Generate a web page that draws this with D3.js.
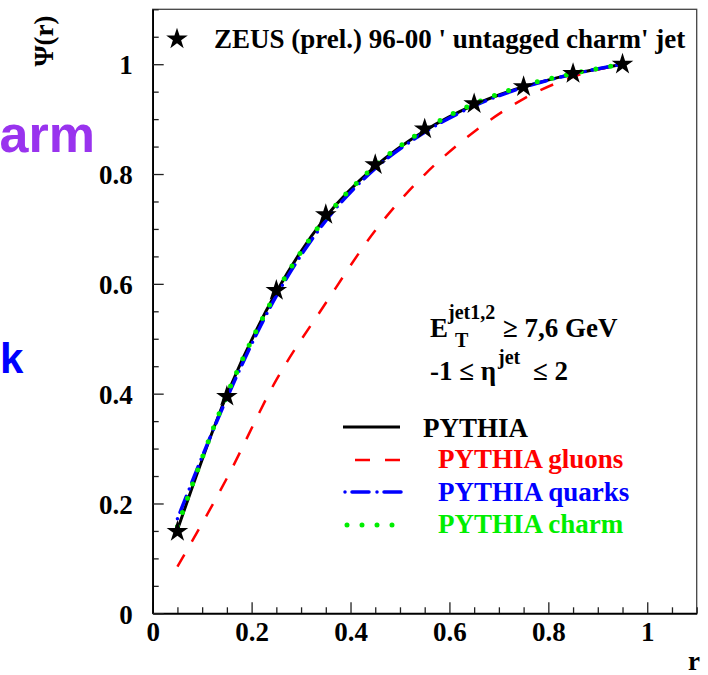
<!DOCTYPE html>
<html>
<head>
<meta charset="utf-8">
<script src="https://cdn.jsdelivr.net/npm/d3@7"></script>
<style>
  html, body { margin: 0; padding: 0; background: #fff; }
  svg { display: block; }
  .serif { font-family: "Liberation Serif", "Times New Roman", serif; font-weight: bold; }
  .sans { font-family: "Liberation Sans", Arial, sans-serif; font-weight: bold; }
</style>
</head>
<body>
<svg id="chart" width="708" height="675"></svg>
<script>
// Jet shape Psi(r): ZEUS untagged charm jets vs PYTHIA predictions
const rBins = [0.05, 0.15, 0.25, 0.35, 0.45, 0.55, 0.65, 0.75, 0.85, 0.95];
const zeusData = [0.149, 0.395, 0.588, 0.726, 0.817, 0.882, 0.928, 0.959, 0.983, 1.000];
const pythiaAll = [0.152, 0.398, 0.585, 0.722, 0.814, 0.879, 0.926, 0.959, 0.982, 1.000];
const pythiaGluons = [0.085, 0.246, 0.425, 0.565, 0.697, 0.799, 0.877, 0.937, 0.977, 1.000];
const pythiaQuarks = [0.172, 0.392, 0.578, 0.715, 0.810, 0.876, 0.924, 0.958, 0.982, 1.000];
const pythiaCharm = [0.158, 0.398, 0.584, 0.721, 0.815, 0.881, 0.928, 0.961, 0.983, 1.000];

const xMajorTicks = [0, 0.2, 0.4, 0.6, 0.8, 1];
const yMajorTicks = [0, 0.2, 0.4, 0.6, 0.8, 1];
const minorStep = 0.05;

const legendEntries = [
  { label: "PYTHIA", color: "#000000", style: "solid" },
  { label: "PYTHIA gluons", color: "#ff0000", style: "dashed" },
  { label: "PYTHIA quarks", color: "#0000ff", style: "dashdot" },
  { label: "PYTHIA charm", color: "#00ee00", style: "dotted" }
];

const svg = d3.select("#chart");

const frame = { left: 152.7, right: 696.7, top: 9.3, bottom: 613.3 };
const x = d3.scaleLinear().domain([0, 1.1]).range([frame.left, frame.right]);
const y = d3.scaleLinear().domain([0, 1.1]).range([frame.bottom, frame.top]);

const styles = {
  solid:   { width: 3,   dash: null,        cap: "butt" },
  dashed:  { width: 2.5, dash: "14 15",     cap: "butt" },
  dashdot: { width: 3.5, dash: "0 7 17 8",  cap: "round" },
  dotted:  { width: 5,   dash: "0 15",      cap: "round" }
};

// side words at the left edge
svg.append("text").attr("class", "sans")
  .attr("x", 95).attr("y", 152).attr("text-anchor", "end")
  .attr("font-size", 52).attr("fill", "#9933ee").text("arm");
svg.append("text").attr("class", "sans")
  .attr("x", 0).attr("y", 373).attr("text-anchor", "start")
  .attr("font-size", 42).attr("fill", "#0000ff").text("k");

// frame
svg.append("rect")
  .attr("x", frame.left).attr("y", frame.top)
  .attr("width", frame.right - frame.left).attr("height", frame.bottom - frame.top)
  .attr("fill", "none").attr("stroke", "#444").attr("stroke-width", 1.3);

const minorVals = d3.range(0, 1.1 + 1e-9, minorStep)
  .map(v => +v.toFixed(2))
  .filter(v => !xMajorTicks.includes(v));

// x axis
const gx = svg.append("g").attr("transform", `translate(0,${frame.bottom})`);
gx.call(d3.axisBottom(x).tickValues(minorVals).tickSize(-6).tickSizeOuter(0).tickFormat(""));
const gxMaj = svg.append("g").attr("transform", `translate(0,${frame.bottom})`);
gxMaj.call(d3.axisBottom(x).tickValues(xMajorTicks).tickSize(-11).tickSizeOuter(0)
  .tickPadding(10).tickFormat(d3.format("~g")));

// y axis
const gy = svg.append("g").attr("transform", `translate(${frame.left},0)`);
gy.call(d3.axisLeft(y).tickValues(minorVals).tickSize(-6).tickSizeOuter(0).tickFormat(""));
const gyMaj = svg.append("g").attr("transform", `translate(${frame.left},0)`);
gyMaj.call(d3.axisLeft(y).tickValues(yMajorTicks).tickSize(-11).tickSizeOuter(0)
  .tickPadding(20).tickFormat(d3.format("~g")));

svg.selectAll(".domain").attr("stroke", "#000").attr("stroke-width", 1.5);
svg.selectAll(".tick line").attr("stroke", "#222").attr("stroke-width", 1.3);
svg.selectAll(".tick text")
  .attr("class", "serif").attr("font-size", 27).attr("fill", "#000");
gxMaj.selectAll(".tick text").attr("dy", "0.71em").attr("y", 9);
gyMaj.selectAll(".tick text").attr("dy", "0.36em");

// axis titles
svg.append("text").attr("class", "serif")
  .attr("transform", "translate(53,41) rotate(-90)")
  .attr("text-anchor", "middle").attr("font-size", 27).text("Ψ(r)");
svg.append("text").attr("class", "serif")
  .attr("x", 700).attr("y", 670).attr("text-anchor", "end")
  .attr("font-size", 27).text("r");

// curves
const line = d3.line()
  .x((d, i) => x(rBins[i]))
  .y(d => y(d))
  .curve(d3.curveMonotoneX);

const series = [pythiaAll, pythiaGluons, pythiaQuarks, pythiaCharm];
series.forEach((vals, k) => {
  const st = styles[legendEntries[k].style];
  svg.append("path")
    .attr("d", line(vals))
    .attr("fill", "none")
    .attr("stroke", legendEntries[k].color)
    .attr("stroke-width", st.width)
    .attr("stroke-linecap", st.cap)
    .attr("stroke-dasharray", st.dash);
});

// data points
const star = d3.symbol().type(d3.symbolStar).size(145);
svg.append("g").selectAll("path")
  .data(zeusData)
  .join("path")
  .attr("transform", (d, i) => `translate(${x(rBins[i])},${y(d)})`)
  .attr("d", star)
  .attr("fill", "#000");

// data legend
svg.append("path")
  .attr("transform", "translate(177,39)")
  .attr("d", star())
  .attr("fill", "#000");
svg.append("text").attr("class", "serif")
  .attr("x", 214).attr("y", 48).attr("font-size", 27)
  .text("ZEUS (prel.) 96-00 ' untagged charm' jet");

// cut annotation
const ann = svg.append("g").attr("class", "serif").attr("fill", "#000");
ann.append("text").attr("x", 430).attr("y", 337).attr("font-size", 27).text("E");
ann.append("text").attr("x", 448).attr("y", 319).attr("font-size", 20).text("jet1,2");
ann.append("text").attr("x", 455).attr("y", 347).attr("font-size", 20).text("T");
ann.append("text").attr("x", 503).attr("y", 337).attr("font-size", 27).text("≥ 7,6 GeV");
ann.append("text").attr("x", 430).attr("y", 380).attr("font-size", 27).text("-1 ≤ η");
ann.append("text").attr("x", 498).attr("y", 364).attr("font-size", 20).text("jet");
ann.append("text").attr("x", 533).attr("y", 380).attr("font-size", 27).text("≤ 2");

// model legend
const legendRows = [
  { lineX: [343, 400], lineY: 427, textX: 423, textY: 437 },
  { lineX: [355, 400], lineY: 460, textX: 438, textY: 468 },
  { lineX: [345, 401], lineY: 492, textX: 438, textY: 501 },
  { lineX: [347, 393], lineY: 525, textX: 438, textY: 533 }
];
legendEntries.forEach((e, i) => {
  const row = legendRows[i];
  const st = styles[e.style];
  svg.append("line")
    .attr("x1", row.lineX[0]).attr("x2", row.lineX[1])
    .attr("y1", row.lineY).attr("y2", row.lineY)
    .attr("stroke", e.color)
    .attr("stroke-width", st.width)
    .attr("stroke-linecap", st.cap)
    .attr("stroke-dasharray", e.style === "dashed" ? "15 15" : st.dash);
  svg.append("text").attr("class", "serif")
    .attr("x", row.textX).attr("y", row.textY)
    .attr("font-size", 27).attr("fill", e.color)
    .text(e.label);
});
</script>
</body>
</html>
